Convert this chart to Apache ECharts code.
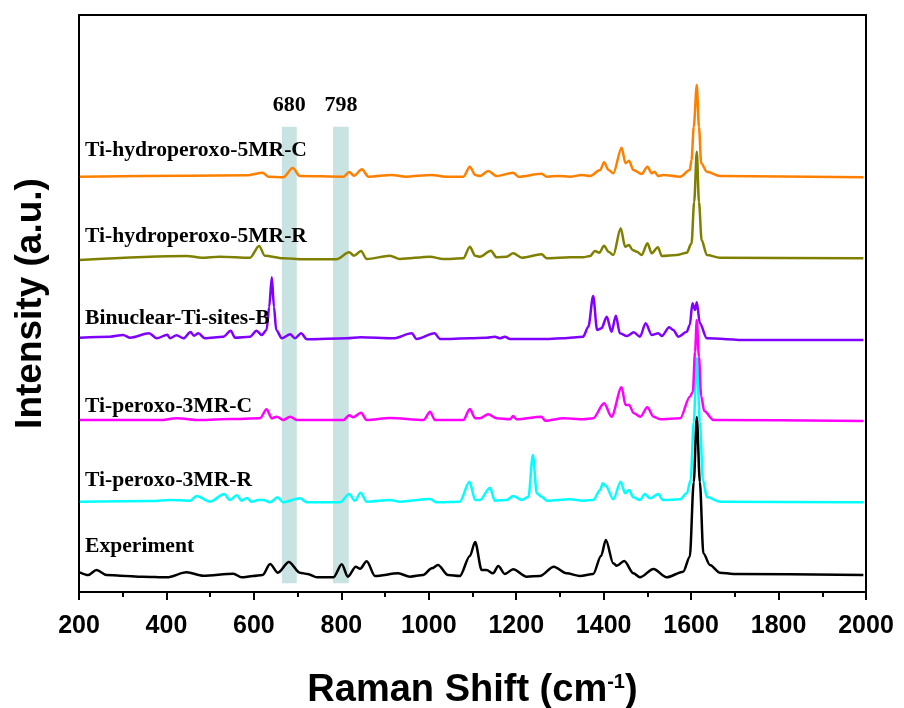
<!DOCTYPE html>
<html><head><meta charset="utf-8">
<script src="https://cdn.jsdelivr.net/npm/echarts@6/dist/echarts.min.js"></script>
<style>html,body{margin:0;padding:0;background:#fff}#c{width:904px;height:708px}</style>
</head><body><div id="c"></div>
<script>
// x range and tick labels
const xMin = 200, xMax = 2000, xStep = 200;
// stacked spectra (value = intensity incl. vertical offset, a.u.)
const seriesNames = ['Experiment','Ti-peroxo-3MR-R','Ti-peroxo-3MR-C','Binuclear-Ti-sites-B','Ti-hydroperoxo-5MR-R','Ti-hydroperoxo-5MR-C'];
const seriesColors = ['#000000','#00ffff','#ff00ff','#8000ff','#808000','#ff8000'];
const labelY = [546.7, 480, 406.7, 318.3, 236.7, 150];

const experiment = [[202,19.7],[221,17],[240,22],[263,17],[294,16.3],[346,15.3],[401,14.7],[446,19.7],[484,16.3],[553,18.3],[572,14.7],[598,16],[620,17],[637,28],[655,19.3],[680,30],[705,19.3],[723,18],[744,14.7],[782,14.7],[801,27.7],[815,15.3],[833,25.3],[843,23.3],[858,30.7],[877,16],[930,18.7],[957,15.3],[987,17],[1007,23.7],[1021,27],[1044,17],[1071,16],[1094,36],[1106,50],[1121,22],[1132,22],[1147,18.7],[1159,26],[1174,18],[1193,22.7],[1224,15.3],[1254,16],[1286,25.3],[1315,18.7],[1346,16],[1376,18],[1394,36],[1405,52],[1422,28.7],[1430,26.3],[1447,31],[1468,18.7],[1483,14.7],[1514,23],[1544,14.7],[1582,20.3],[1597,35.3],[1606,110],[1613,175],[1620,110],[1628,38.7],[1643,27],[1666,19.3],[1697,18],[1994,17]];
const peroxo3MR_R = [[202,90.3],[366,91],[408,92],[454,91.3],[469,96],[500,90.3],[532,98],[545,92],[561,96.7],[572,91.3],[584,94],[595,90.3],[610,92],[622,92],[637,89.7],[654,94.7],[667,89.7],[705,93.7],[721,89.7],[797,89.7],[818,98],[831,91.3],[844,99.3],[858,90.3],[911,92],[934,90.3],[1003,93],[1018,89.7],[1071,90.3],[1093,110.3],[1106,92],[1117,92],[1140,104.3],[1151,91.3],[1178,92],[1193,96],[1213,92],[1228,95.3],[1238,137],[1247,98.7],[1258,95.3],[1270,91.3],[1323,92.7],[1353,91.3],[1376,92],[1392,102],[1398,108.7],[1405,106],[1422,92.7],[1439,110.3],[1449,98.7],[1458,102],[1468,94.7],[1483,92],[1494,98],[1506,93.7],[1525,98],[1535,92],[1575,92.7],[1590,98.7],[1599,112],[1606,170],[1613,234],[1620,170],[1627,112],[1636,95],[1666,90.3],[1994,89.7]];
const peroxo3MR_C = [[202,172],[385,172],[423,173.7],[477,172],[545,173],[614,173.7],[629,182.7],[641,173.7],[652,175.3],[667,172],[683,175.3],[698,172],[805,172],[818,176.7],[827,174.7],[845,179.3],[858,172],[911,174],[988,172],[1003,180.3],[1014,172],[1079,172],[1094,183],[1106,173.7],[1117,173.7],[1136,177.7],[1155,173.7],[1186,172.7],[1193,176],[1201,172.7],[1258,175.3],[1266,171.3],[1308,173.7],[1353,172.7],[1376,173.7],[1401,188.7],[1418,175.3],[1441,204.7],[1450,187],[1458,187],[1469,178.7],[1484,175.3],[1500,184.7],[1514,175.3],[1529,172.7],[1575,173.7],[1597,195.3],[1604,200],[1609,240],[1613,272],[1618,235],[1623,196],[1630,181],[1651,172],[1994,171]];
const binuclearB = [[202,254.3],[271,255.3],[301,257],[317,254.3],[360,258.7],[378,253.7],[402,257.3],[408,253.7],[423,256.7],[439,253.7],[455,260],[463,256.3],[473,258.7],[488,253.7],[530,255.3],[547,261.3],[557,254.3],[591,255.3],[606,261.3],[618,257],[629,262],[635,285],[641,314.7],[646,285],[651,262],[664,253.7],[683,257.7],[694,253.7],[708,258.7],[721,252.7],[812,253.7],[844,254.7],[919,253.7],[961,258.7],[972,253],[1013,258.7],[1026,253],[1094,253.7],[1132,254.3],[1151,255.3],[1163,253.7],[1174,255.3],[1186,253],[1258,253],[1308,253.7],[1353,255.3],[1365,265.3],[1376,296],[1385,262],[1395,263.7],[1407,275.3],[1418,260.3],[1428,276.3],[1437,258.7],[1453,256],[1469,259.7],[1483,255.3],[1496,268.7],[1510,257],[1525,258.7],[1533,256],[1550,264.7],[1559,262],[1571,255.3],[1590,260.3],[1597,267],[1603,288.7],[1609,282],[1613,289.7],[1620,268.7],[1636,253.7],[1727,252],[1994,252]];
const hydroperoxo5MR_R = [[202,332],[446,336],[481,334.3],[522,335.3],[591,334.3],[612,346],[625,336.3],[667,333.7],[713,332.7],[789,332.7],[818,339.7],[829,336.3],[845,341],[858,333],[911,336.3],[934,333],[1003,335.3],[1033,333],[1079,333.7],[1094,345.3],[1106,336.3],[1117,335.3],[1142,341.3],[1155,334.7],[1178,335.3],[1193,338.7],[1213,334.3],[1258,337.7],[1270,333.7],[1323,334.7],[1353,334.7],[1369,336],[1380,341],[1390,339.3],[1401,346.3],[1411,340.3],[1422,337],[1439,363.7],[1449,345.3],[1458,347],[1466,342],[1476,340.3],[1487,337],[1500,348.7],[1510,338.7],[1524,344.7],[1533,336],[1567,337],[1590,339.3],[1601,348.7],[1607,390],[1613,440.3],[1618,390],[1624,352],[1636,337],[1666,334.3],[1994,333.7]];
const hydroperoxo5MR_C = [[202,415.3],[454,416.3],[584,416.7],[620,419.3],[633,415.3],[667,414.7],[689,424],[705,416],[805,415.3],[818,420],[829,416.3],[847,422.7],[862,415.3],[915,417],[946,415.3],[1007,417],[1037,415.3],[1079,415.3],[1094,425.3],[1106,417],[1117,416],[1136,421],[1155,416],[1193,419.3],[1205,415.3],[1258,418.3],[1270,415.3],[1296,416],[1323,415.3],[1350,417],[1369,416],[1392,422],[1401,429.7],[1411,422],[1422,418.7],[1441,444.3],[1450,428.7],[1458,431.3],[1468,422],[1487,418],[1500,425.3],[1510,418.7],[1516,420.3],[1525,416],[1536,417],[1575,415.3],[1597,422],[1601,432],[1606,465],[1613,507],[1618,465],[1623,428.7],[1636,420.3],[1666,416],[1994,414.7]];
const spectra = [experiment, peroxo3MR_R, peroxo3MR_C, binuclearB, hydroperoxo5MR_R, hydroperoxo5MR_C];

// highlighted bands
const bandLabels = ['680','798'];
const bandRanges = [[664,698],[781,817]];
const bandYRange = [8.7, 465.3];

const chart = echarts.init(document.getElementById('c'), null, {renderer:'canvas'});
const sans = "'Liberation Sans',Arial,sans-serif";
const serif = "'Liberation Serif','Times New Roman',serif";

const series = spectra.map((d,i)=>({
  name: seriesNames[i], type:'line', data:d, symbol:'none', smooth:0.3, smoothMonotone:'x',
  lineStyle:{color:seriesColors[i], width:2.5}, z:3, animation:false
}));
series.push({
  type:'line', data:[], z:1, animation:false, silent:true,
  markArea:{
    silent:true,
    itemStyle:{color:'#c9e3e3'},
    label:{show:true, position:'top', distance:10, fontFamily:serif, fontWeight:'bold', fontSize:22, color:'#000'},
    data: bandRanges.map((r,i)=>[{name:bandLabels[i], xAxis:r[0], yAxis:bandYRange[0]},{xAxis:r[1], yAxis:bandYRange[1]}])
  }
});

const option = {
  animation:false,
  backgroundColor:'#fff',
  grid:{left:79, right:38, top:15, bottom:116, containLabel:false, outerBoundsMode:'none'},
  xAxis:[{
    type:'value', min:xMin, max:xMax, interval:xStep, position:'bottom',
    axisLine:{show:true, onZero:false, lineStyle:{color:'#000', width:2}},
    axisTick:{show:true, length:8, lineStyle:{color:'#000', width:2}},
    minorTick:{show:true, splitNumber:2, length:5, lineStyle:{color:'#000', width:2}},
    splitLine:{show:false},
    axisLabel:{color:'#000', fontFamily:sans, fontWeight:'bold', fontSize:25, margin:22, formatter:(v)=>String(v)},
    name:'{a|Raman Shift (cm}{s|-1}{a|)}', nameLocation:'middle', nameGap:80,
    nameTextStyle:{rich:{a:{fontFamily:sans, fontWeight:'bold', fontSize:38, color:'#000'}, s:{fontFamily:sans, fontWeight:'bold', fontSize:20, color:'#000', verticalAlign:'top', padding:[0,0,18,0]}}}
  },{
    type:'value', min:xMin, max:xMax, position:'top',
    axisLine:{show:true, onZero:false, lineStyle:{color:'#000', width:2}},
    axisTick:{show:false}, axisLabel:{show:false}, splitLine:{show:false}
  }],
  yAxis:[{
    type:'value', min:0, max:577, position:'left',
    axisLine:{show:true, onZero:false, lineStyle:{color:'#000', width:2}},
    axisTick:{show:false}, axisLabel:{show:false}, splitLine:{show:false},
    name:'Intensity (a.u.)', nameLocation:'middle', nameGap:30,
    nameTextStyle:{fontFamily:sans, fontWeight:'bold', fontSize:37, color:'#000'}
  },{
    type:'value', min:0, max:577, position:'right',
    axisLine:{show:true, onZero:false, lineStyle:{color:'#000', width:2}},
    axisTick:{show:false}, axisLabel:{show:false}, splitLine:{show:false}
  }],
  graphic: seriesNames.map((n,i)=>({
    type:'text', x:85, y:labelY[i], z:10,
    style:{text:n, font:"bold 21.6px 'Liberation Serif','Times New Roman',serif", fill:'#000', verticalAlign:'middle'}
  })),
  series: series
};
chart.setOption(option);
</script>
</body></html>
